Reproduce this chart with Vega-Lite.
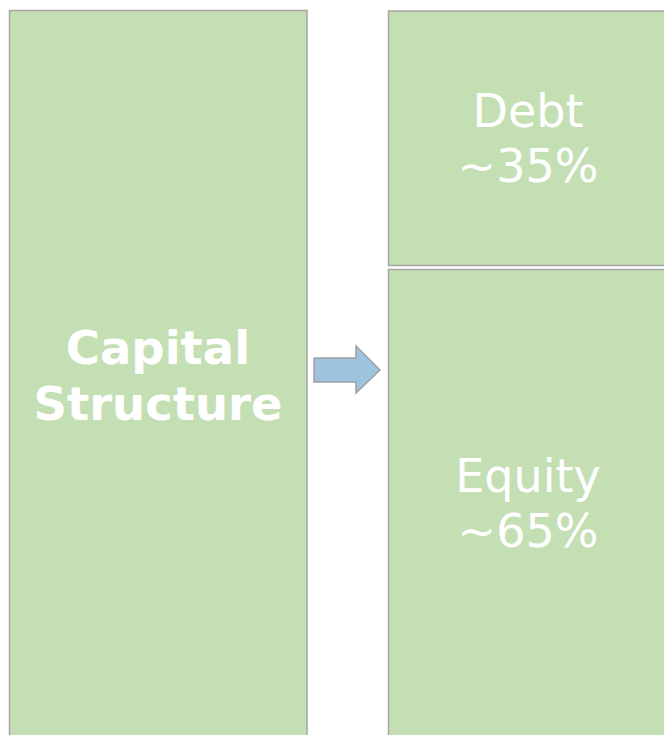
{
  "$schema": "https://vega.github.io/schema/vega-lite/v6.json",
  "width": 664,
  "height": 735,
  "padding": 0,
  "autosize": {"type": "none"},
  "background": "white",
  "config": {"view": {"stroke": null}},
  "datasets": {
    "boxes": [
      {"name": "Capital Structure", "x": 9.5, "x2": 307, "y": 10.5, "y2": 745},
      {"name": "Debt", "x": 388.5, "x2": 675, "y": 11, "y2": 265.5},
      {"name": "Equity", "x": 388.5, "x2": 675, "y": 269.5, "y2": 745}
    ],
    "arrow": [
      {"i": 0, "x": 314, "y": 358},
      {"i": 1, "x": 356, "y": 358},
      {"i": 2, "x": 356, "y": 346},
      {"i": 3, "x": 380, "y": 370},
      {"i": 4, "x": 356, "y": 393},
      {"i": 5, "x": 356, "y": 382},
      {"i": 6, "x": 314, "y": 382},
      {"i": 7, "x": 314, "y": 358}
    ],
    "labels": [
      {"label": "Capital\nStructure", "x": 158, "y": 364, "bold": "yes"},
      {"label": "Debt\n~35%", "x": 528, "y": 127, "bold": "no"},
      {"label": "Equity\n~65%", "x": 528, "y": 492, "bold": "no"}
    ]
  },
  "layer": [
    {
      "data": {"name": "boxes"},
      "mark": {"type": "rect", "fill": "#C5DFB4", "stroke": "#A6A6A6", "strokeWidth": 1.5},
      "encoding": {
        "x": {"field": "x", "type": "quantitative", "scale": {"domain": [0, 664], "nice": false, "zero": false}, "axis": null},
        "x2": {"field": "x2"},
        "y": {"field": "y", "type": "quantitative", "scale": {"domain": [0, 735], "nice": false, "zero": false, "reverse": true}, "axis": null},
        "y2": {"field": "y2"}
      }
    },
    {
      "data": {"name": "arrow"},
      "mark": {"type": "line", "fill": "#9DC3DE", "stroke": "#A0A0A0", "strokeWidth": 1.5, "interpolate": "linear"},
      "encoding": {
        "x": {"field": "x", "type": "quantitative"},
        "y": {"field": "y", "type": "quantitative"},
        "order": {"field": "i", "type": "quantitative"}
      }
    },
    {
      "data": {"name": "labels"},
      "transform": [{"filter": "datum.bold == 'yes'"}],
      "mark": {"type": "text", "font": "DejaVu Sans", "fontWeight": "bold", "fontSize": 46.5, "color": "white", "align": "center", "baseline": "alphabetic", "lineBreak": "\n", "lineHeight": 56},
      "encoding": {
        "x": {"field": "x", "type": "quantitative"},
        "y": {"field": "y", "type": "quantitative"},
        "text": {"field": "label"}
      }
    },
    {
      "data": {"name": "labels"},
      "transform": [{"filter": "datum.bold == 'no'"}],
      "mark": {"type": "text", "font": "DejaVu Sans", "fontSize": 46, "color": "white", "align": "center", "baseline": "alphabetic", "lineBreak": "\n", "lineHeight": 54.5},
      "encoding": {
        "x": {"field": "x", "type": "quantitative"},
        "y": {"field": "y", "type": "quantitative"},
        "text": {"field": "label"}
      }
    }
  ]
}
